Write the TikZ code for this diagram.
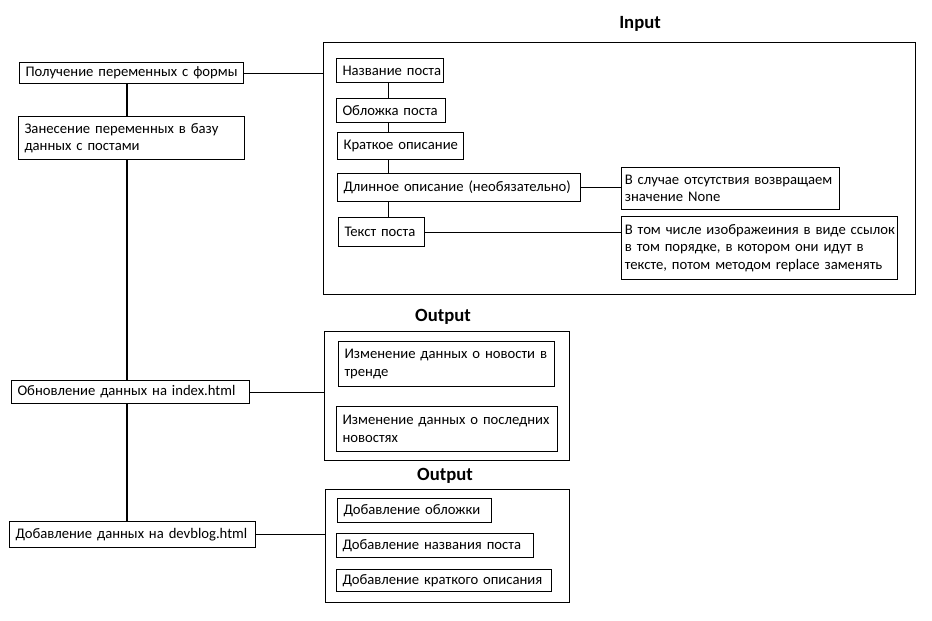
\documentclass[tikz,border=0pt]{standalone}
\usepackage{fontspec}
\setmainfont{Carlito}
% one line of box text, never broken, set flush left
\newcommand\oneline[1]{\makebox[0pt][l]{#1}}
\begin{document}
\begin{tikzpicture}[x=0.75pt,y=-0.75pt,
  every node/.style={font=\fontsize{11}{13.2}\selectfont},
  box/.style 2 args={draw, line width=0.8pt, anchor=north west,
    minimum width=#1*0.75pt, minimum height=#2*0.75pt,
    text width=#1*0.75pt-9pt, inner xsep=4.5pt, inner ysep=0pt, align=left},
  notebox/.style 2 args={box={#1}{#2},
    text width=#1*0.75pt-5pt, inner xsep=2.5pt},
  frame/.style 2 args={draw, line width=0.8pt, anchor=north west,
    minimum width=#1*0.75pt, minimum height=#2*0.75pt, inner sep=0pt},
  title/.style={font=\fontsize{14}{17}\selectfont\bfseries},
  link/.style={draw, line width=0.8pt}]
\useasboundingbox (0,0) rectangle (932,621);

% main sequence on the left
\coordinate (trunk) at (127,0);
\node[box={224}{21}] (get) at (19,62) {\oneline{Получение переменных с формы}};
\node[box={226}{43}] (store) at (18,116) {\oneline{Занесение переменных в базу}\\\oneline{данных с постами}};
\node[box={238}{23}] (idx) at (11,380) {\oneline{Обновление данных на index.html}};
\node[box={246}{26}] (dev) at (9,521) {\oneline{Добавление данных на devblog.html}};

% input block
\node[title] (intitle) at (640,24) {Input};
\node[frame={592}{252}] (inframe) at (323,42) {};
\node[box={107}{24}] (iname) at (336,58) {\oneline{Название поста}};
\node[box={109}{24}] (icover) at (336,98) {\oneline{Обложка поста}};
\node[box={126}{27}] (ishort) at (337,132) {\oneline{Краткое описание}};
\node[box={243}{28}] (ilong) at (337,173) {\oneline{Длинное описание (необязательно)}};
\node[box={86}{29}] (itext) at (338,217) {\oneline{Текст поста}};
\node[notebox={218}{42}] (nonenote) at (621,167)
  {\oneline{В случае отсутствия возвращаем}\\\oneline{значение None}};
\node[notebox={276}{63}] (imgnote) at (621,216)
  {\oneline{В том числе изображеиния в виде ссылок}\\
   \oneline{в том порядке, в котором они идут в}\\
   \oneline{тексте, потом методом replace заменять}};

% first output block
\node[title] (outAtitle) at (443,317) {Output};
\node[frame={245}{129}] (outA) at (324,331) {};
\node[box={216}{45}] (trend) at (338,341)
  {\oneline{Изменение данных о новости в}\\\oneline{тренде}};
\node[box={221}{45}] (latest) at (336,406)
  {\oneline{Изменение данных о последних}\\\oneline{новостях}};

% second output block
\node[title] (outBtitle) at (445,476) {Output};
\node[frame={244}{113}] (outB) at (325,489) {};
\node[box={154}{24}] (addcover) at (337,498) {\oneline{Добавление обложки}};
\node[box={197}{24}] (addtitle) at (336,533) {\oneline{Добавление названия поста}};
\node[box={215}{22}] (addshort) at (336,569) {\oneline{Добавление краткого описания}};

% connectors
\draw[link] (get.south -| trunk) -- (store.north -| trunk);
\draw[link] (store.south -| trunk) -- (idx.north -| trunk);
\draw[link] (idx.south -| trunk) -- (dev.north -| trunk);
\draw[link] (get.east) -- (get.east -| inframe.west);
\draw[link] (idx.east) -- (idx.east -| outA.west);
\draw[link] (dev.east) -- (dev.east -| outB.west);

\coordinate (chain) at (388.5,0);
\draw[link] (iname.south -| chain) -- (icover.north -| chain);
\draw[link] (icover.south -| chain) -- (ishort.north -| chain);
\draw[link] (ishort.south -| chain) -- (ilong.north -| chain);
\draw[link] (ilong.south -| chain) -- (itext.north -| chain);
\draw[link] (ilong.east) -- (ilong.east -| nonenote.west);
\draw[link] (itext.east) -- (itext.east -| imgnote.west);
\end{tikzpicture}
\end{document}
